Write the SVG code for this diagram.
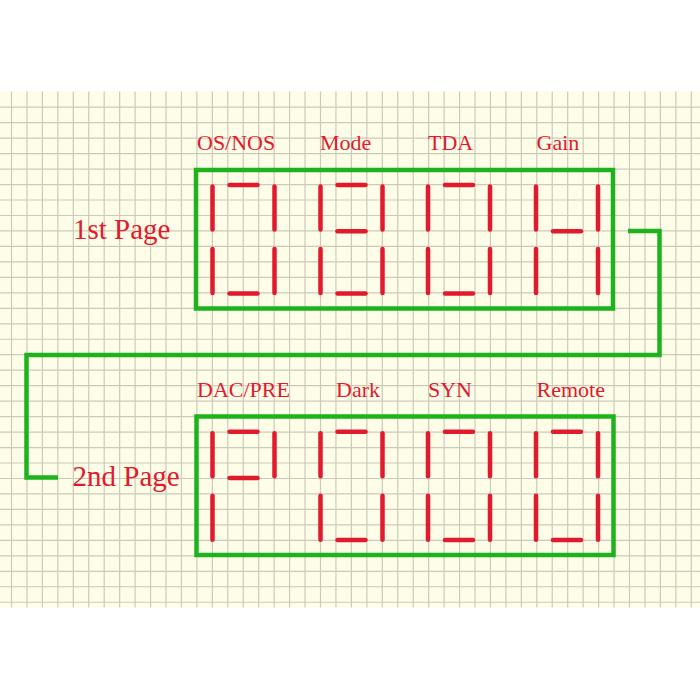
<svg xmlns="http://www.w3.org/2000/svg" xmlns:xlink="http://www.w3.org/1999/xlink" width="700" height="700" viewBox="0 0 700 700">
<style>
.grid{fill:none;stroke:#cbcabb;stroke-width:1.2}
.box{fill:none;stroke:#1db31d;stroke-width:4.5}
.wire{fill:none;stroke:#1db31d;stroke-width:4.5;stroke-linejoin:miter}
.seg{stroke:#e21a2e;stroke-width:4.5;stroke-linecap:round}
.lbl{font-family:"Liberation Serif","Times New Roman",serif;font-size:22px;fill:#e21a2e}
.page{font-family:"Liberation Serif","Times New Roman",serif;font-size:29px;fill:#e21a2e}
</style>
<defs>
<line id="sa" class="seg" x1="17" y1="0" x2="45" y2="0"/>
<line id="sb" class="seg" x1="62" y1="1.5" x2="62" y2="44.5"/>
<line id="sc" class="seg" x1="62" y1="64" x2="62" y2="108"/>
<line id="sd" class="seg" x1="17" y1="108.4" x2="45" y2="108.4"/>
<line id="se" class="seg" x1="0" y1="64" x2="0" y2="108"/>
<line id="sf" class="seg" x1="0" y1="1.5" x2="0" y2="44.5"/>
<line id="sg" class="seg" x1="17" y1="46.3" x2="45" y2="46.3"/>
</defs>
<rect x="0" y="0" width="700" height="700" fill="#ffffff"/>
<rect x="0" y="91.5" width="700" height="516" fill="#fefde8"/>
<path class="grid" d="M11.5 91.5V607.5M26.95 91.5V607.5M42.4 91.5V607.5M57.85 91.5V607.5M73.3 91.5V607.5M88.75 91.5V607.5M104.2 91.5V607.5M119.65 91.5V607.5M135.1 91.5V607.5M150.55 91.5V607.5M166 91.5V607.5M181.45 91.5V607.5M196.9 91.5V607.5M212.35 91.5V607.5M227.8 91.5V607.5M243.25 91.5V607.5M258.7 91.5V607.5M274.15 91.5V607.5M289.6 91.5V607.5M305.05 91.5V607.5M320.5 91.5V607.5M335.95 91.5V607.5M351.4 91.5V607.5M366.85 91.5V607.5M382.3 91.5V607.5M397.75 91.5V607.5M413.2 91.5V607.5M428.65 91.5V607.5M444.1 91.5V607.5M459.55 91.5V607.5M475 91.5V607.5M490.45 91.5V607.5M505.9 91.5V607.5M521.35 91.5V607.5M536.8 91.5V607.5M552.25 91.5V607.5M567.7 91.5V607.5M583.15 91.5V607.5M598.6 91.5V607.5M614.05 91.5V607.5M629.5 91.5V607.5M644.95 91.5V607.5M660.4 91.5V607.5M675.85 91.5V607.5M691.3 91.5V607.5
M0 107.2H700M0 122.67H700M0 138.14H700M0 153.61H700M0 169.08H700M0 184.55H700M0 200.02H700M0 215.49H700M0 230.96H700M0 246.43H700M0 261.9H700M0 277.37H700M0 292.84H700M0 308.31H700M0 323.78H700M0 339.25H700M0 354.72H700M0 370.19H700M0 385.66H700M0 401.13H700M0 416.6H700M0 432.07H700M0 447.54H700M0 463.01H700M0 478.48H700M0 493.95H700M0 509.42H700M0 524.89H700M0 540.36H700M0 555.83H700M0 571.3H700M0 586.77H700M0 602.24H700"/>
<g id="connectors">
<polyline class="wire" points="628,231 659.5,231 659.5,355 26.5,355 26.5,477.5 58,477.5"/>
</g>
<g id="page1">
<text class="page" x="73" y="239">1st Page</text>
<rect class="box" x="196" y="170" width="417" height="138.5"/>
<g id="p1-d1" transform="translate(212.5,185)"><text class="lbl" x="-15.5" y="-35">OS/NOS</text><use href="#sa"/><use href="#sb"/><use href="#sc"/><use href="#sd"/><use href="#se"/><use href="#sf"/></g>
<g id="p1-d2" transform="translate(320.5,185)"><text class="lbl" x="-0.5" y="-35">Mode</text><use href="#sa"/><use href="#sb"/><use href="#sc"/><use href="#sd"/><use href="#se"/><use href="#sf"/><use href="#sg"/></g>
<g id="p1-d3" transform="translate(428,185)"><text class="lbl" x="0" y="-35">TDA</text><use href="#sa"/><use href="#sb"/><use href="#sc"/><use href="#sd"/><use href="#se"/><use href="#sf"/></g>
<g id="p1-d4" transform="translate(536,185)"><text class="lbl" x="0.5" y="-35">Gain</text><use href="#sb"/><use href="#sc"/><use href="#se"/><use href="#sf"/><use href="#sg"/></g>
</g>
<g id="page2">
<text class="page" x="72.5" y="486">2nd Page</text>
<rect class="box" x="196.5" y="416.5" width="417" height="138.5"/>
<g id="p2-d1" transform="translate(212.5,431.7)"><text class="lbl" x="-15.5" y="-35">DAC/PRE</text><use href="#sa"/><use href="#sb"/><use href="#se"/><use href="#sf"/><use href="#sg"/></g>
<g id="p2-d2" transform="translate(320.5,431.7)"><text class="lbl" x="15.5" y="-35">Dark</text><use href="#sa"/><use href="#sb"/><use href="#sc"/><use href="#sd"/><use href="#se"/><use href="#sf"/></g>
<g id="p2-d3" transform="translate(428,431.7)"><text class="lbl" x="0" y="-35">SYN</text><use href="#sa"/><use href="#sb"/><use href="#sc"/><use href="#sd"/><use href="#se"/><use href="#sf"/></g>
<g id="p2-d4" transform="translate(536,431.7)"><text class="lbl" x="0.5" y="-35">Remote</text><use href="#sa"/><use href="#sb"/><use href="#sc"/><use href="#sd"/><use href="#se"/><use href="#sf"/></g>
</g>
</svg>
